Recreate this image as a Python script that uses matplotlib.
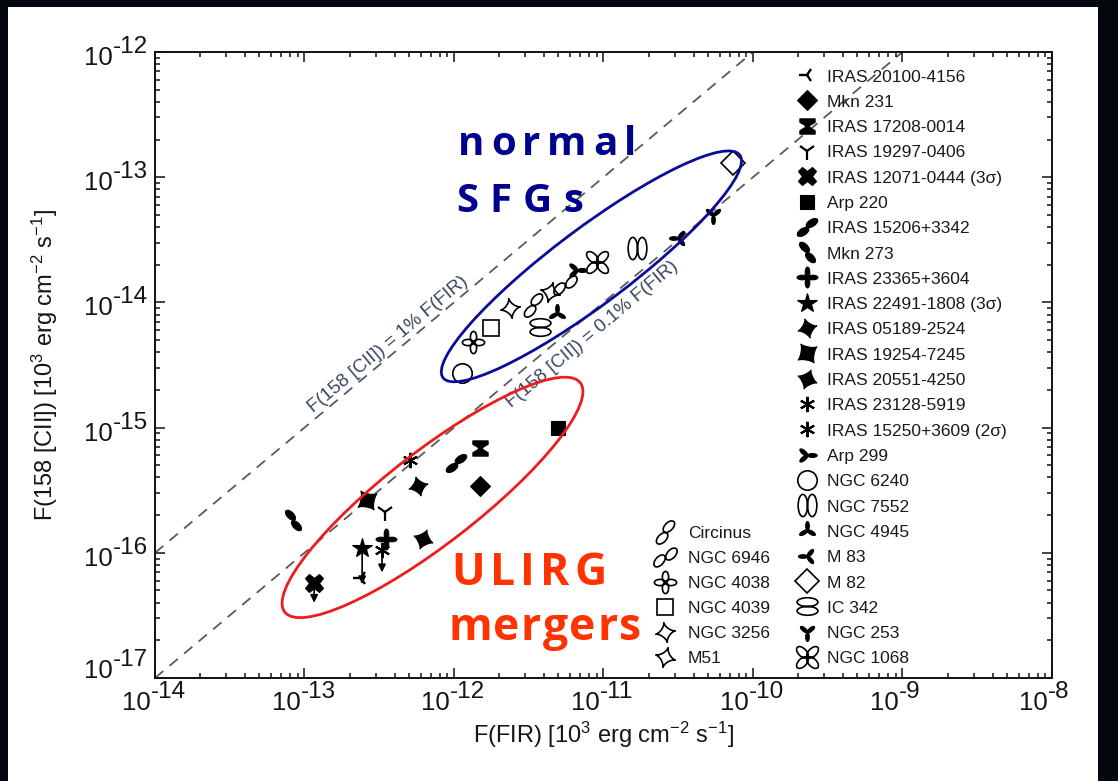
import numpy as np
import matplotlib
matplotlib.use('Agg')
import matplotlib.pyplot as plt
from matplotlib.path import Path
from matplotlib.transforms import Affine2D, IdentityTransform, blended_transform_factory, offset_copy
from matplotlib.patches import Ellipse, Rectangle
from matplotlib import font_manager as fm
from matplotlib.ticker import LogLocator, NullFormatter

# ---------------- data ----------------
ulirg_names = ['IRAS 20100-4156', 'Mkn 231', 'IRAS 17208-0014', 'IRAS 19297-0406',
               'IRAS 12071-0444 (3σ)', 'Arp 220', 'IRAS 15206+3342', 'Mkn 273',
               'IRAS 23365+3604', 'IRAS 22491-1808 (3σ)', 'IRAS 05189-2524',
               'IRAS 19254-7245', 'IRAS 20551-4250', 'IRAS 23128-5919',
               'IRAS 15250+3609 (2σ)']
ulirg_fir = [2.4e-13, 1.5e-12, 1.5e-12, 3.45e-13, 1.16e-13, 5.0e-12, 1.03e-12, 8.4e-14,
             3.5e-13, 2.43e-13, 5.7e-13, 2.6e-13, 6.2e-13, 5.1e-13, 3.3e-13]
ulirg_cii = [6.3e-17, 3.4e-16, 6.9e-16, 2.1e-16, 5.7e-17, 1.0e-15, 5.2e-16, 1.83e-16,
             1.29e-16, 1.09e-16, 3.4e-16, 2.64e-16, 1.29e-16, 5.5e-16, 1.05e-16]
ulirg_limit = [False, False, False, False, True, False, False, False,
               False, True, False, False, False, False, True]

sfg_names = ['Arp 299', 'NGC 6240', 'NGC 7552', 'NGC 4945', 'M 83', 'M 82', 'IC 342',
             'NGC 253', 'NGC 1068', 'Circinus', 'NGC 6946', 'NGC 4038', 'NGC 4039',
             'NGC 3256', 'M51']
sfg_fir = [6.7e-12, 1.13e-12, 1.67e-11, 4.9e-12, 3.15e-11, 7.35e-11, 3.76e-12,
           5.4e-11, 9.06e-12, 3.37e-12, 5.5e-12, 1.34e-12, 1.77e-12, 2.37e-12, 4.38e-12]
sfg_cii = [1.82e-14, 2.73e-15, 2.72e-14, 8.2e-15, 3.27e-14, 1.3e-13, 6.4e-15,
           5.0e-14, 2.1e-14, 9.5e-15, 1.38e-14, 4.83e-15, 6.25e-15, 9.0e-15, 1.21e-14]

legend_right = ulirg_names + sfg_names[:9]
legend_left = sfg_names[9:]

line_ratios = [1e-2, 1e-3]
line_labels = ['F(158 [CII]) = 1% F(FIR)', 'F(158 [CII]) = 0.1% F(FIR)']

x_decades = list(range(-14, -7))
y_decades = list(range(-17, -11))

# ---------------- fonts ----------------
avail = {f.name for f in fm.fontManager.ttflist}
NARROW = 'Liberation Sans Narrow' if 'Liberation Sans Narrow' in avail else 'Liberation Sans'
plt.rcParams['font.family'] = ['Liberation Sans', 'DejaVu Sans']
plt.rcParams['mathtext.fontset'] = 'custom'
plt.rcParams['mathtext.rm'] = NARROW
plt.rcParams['mathtext.it'] = NARROW + ':italic'
plt.rcParams['mathtext.bf'] = NARROW + ':bold'

W, H = 1118, 781
fig = plt.figure(figsize=(W / 100, H / 100), dpi=100, facecolor='#05080e')
fig.patches.append(Rectangle((8 / W, 0), 1090 / W, (H - 7) / H, transform=fig.transFigure,
                             facecolor='white', edgecolor='none', zorder=-10))
AX_L, AX_R, AX_T, AX_B = 155, 1052, 52, 678
ax = fig.add_axes([AX_L / W, 1 - AX_B / H, (AX_R - AX_L) / W, (AX_B - AX_T) / H])
ax.set_facecolor('white')
ax.set_xscale('log')
ax.set_yscale('log')
ax.set_xlim(10.0 ** x_decades[0], 10.0 ** x_decades[-1])
ax.set_ylim(10.0 ** y_decades[0], 10.0 ** y_decades[-1])
for sp in ax.spines.values():
    sp.set_linewidth(1.4)
    sp.set_color('#111111')
for a in (ax.xaxis, ax.yaxis):
    a.set_major_locator(LogLocator(base=10, numticks=20))
    a.set_minor_locator(LogLocator(base=10, subs=np.arange(2, 10), numticks=200))
    a.set_major_formatter(NullFormatter())
    a.set_minor_formatter(NullFormatter())
ax.tick_params(which='both', direction='in', top=True, right=True, width=1.1, color='#111111')
ax.tick_params(which='major', length=7.5)
ax.tick_params(which='minor', length=3.8)

# ---------------- marker shapes ----------------
def ell(cx, cy, a, b, ang=0.0):
    return Path.unit_circle().transformed(
        Affine2D().scale(a, b).rotate_deg(ang).translate(cx, cy))


def lobes(angles, r=0.5, a=0.5, b=0.25, tilt=0.0):
    return Path.make_compound_path(*[
        ell(r * np.cos(np.radians(t)), r * np.sin(np.radians(t)), a, b, t + tilt)
        for t in angles])


def astroid(p=3.0, rot=0.0, n=160):
    t = np.linspace(0, 2 * np.pi, n)
    c, s = np.cos(t), np.sin(t)
    v = np.column_stack([np.sign(c) * np.abs(c) ** p, np.sign(s) * np.abs(s) ** p])
    v = Affine2D().rotate_deg(rot).transform(v)
    return Path(v, closed=True)


hourglass = Path([(-1, 1), (1, 1), (1, 0.55), (0.28, 0.12), (0.28, -0.12), (1, -0.55),
                  (1, -1), (-1, -1), (-1, -0.55), (-0.28, -0.12), (-0.28, 0.12),
                  (-1, 0.55), (-1, 1)], closed=True)

F = dict(color='k', mfc='k', mec='k', mew=0.8)
O = dict(color='k', mfc='none', mec='k', mew=1.2)
styles = {
    'IRAS 20100-4156': dict(marker='3', ms=11, color='k', mew=1.7),
    'Mkn 231': dict(marker='D', ms=10, **F),
    'IRAS 17208-0014': dict(marker=hourglass, ms=11, **F),
    'IRAS 19297-0406': dict(marker='1', ms=13, color='k', mew=1.6),
    'IRAS 12071-0444 (3σ)': dict(marker='X', ms=13, **F),
    'Arp 220': dict(marker='s', ms=10, **F),
    'IRAS 15206+3342': dict(marker=lobes([45, 225], r=0.5, a=0.52, b=0.27, tilt=-12), ms=15, **F),
    'Mkn 273': dict(marker=lobes([120, 300], r=0.5, a=0.52, b=0.27, tilt=15), ms=15, **F),
    'IRAS 23365+3604': dict(marker=lobes([0, 90, 180, 270], r=0.5, a=0.5, b=0.22), ms=15, **F),
    'IRAS 22491-1808 (3σ)': dict(marker='*', ms=15, **F),
    'IRAS 05189-2524': dict(marker=astroid(2.7, 15), ms=13.5, **F),
    'IRAS 19254-7245': dict(marker=astroid(2.6, 35), ms=13.5, **F),
    'IRAS 20551-4250': dict(marker=astroid(2.6, -20), ms=13.5, **F),
    'IRAS 23128-5919': dict(marker=(6, 2, 0), ms=11, color='k', mew=1.5),
    'IRAS 15250+3609 (2σ)': dict(marker=(6, 2, 0), ms=11, color='k', mew=1.5),
    'Arp 299': dict(marker=lobes([0, 140, 220], r=0.5, a=0.5, b=0.2), ms=14, **F),
    'NGC 6240': dict(marker='o', ms=14, **O),
    'NGC 7552': dict(marker=Path.make_compound_path(ell(-0.4, 0, 0.4, 0.95), ell(0.4, 0, 0.4, 0.95)), ms=16, **O),
    'NGC 4945': dict(marker=lobes([90, 210, 330], r=0.5, a=0.5, b=0.2), ms=13, **F),
    'M 83': dict(marker=lobes([180, 50, 310], r=0.5, a=0.5, b=0.2), ms=13, **F),
    'M 82': dict(marker='D', ms=12, **O),
    'IC 342': dict(marker=Path.make_compound_path(ell(0, 0.4, 0.95, 0.4), ell(0, -0.4, 0.95, 0.4)), ms=15, **O),
    'NGC 253': dict(marker=lobes([270, 40, 140], r=0.5, a=0.5, b=0.2), ms=13, **F),
    'NGC 1068': dict(marker=lobes([45, 135, 225, 315], r=0.5, a=0.5, b=0.28), ms=16, **O),
    'Circinus': dict(marker=lobes([60, 240], r=0.5, a=0.52, b=0.3, tilt=-15), ms=17, **O),
    'NGC 6946': dict(marker=lobes([30, 210], r=0.5, a=0.52, b=0.3, tilt=18), ms=17, **O),
    'NGC 4038': dict(marker=lobes([0, 90, 180, 270], r=0.5, a=0.5, b=0.28), ms=16, **O),
    'NGC 4039': dict(marker='s', ms=11, **O),
    'NGC 3256': dict(marker=astroid(3.0, 10), ms=14, **O),
    'M51': dict(marker=astroid(3.0, -15), ms=14, **O),
}
arrow_len = {'IRAS 12071-0444 (3σ)': 14, 'IRAS 22491-1808 (3σ)': 26, 'IRAS 15250+3609 (2σ)': 16}

# ---------------- reference lines ----------------
xs = np.array(ax.get_xlim())
for r in line_ratios:
    ax.plot(xs, r * xs, ls=(0, (6, 4.5)), color='#5a5a5a', lw=1.3, zorder=1)

p1 = ax.transData.transform((1e-13, 1e-15))
p2 = ax.transData.transform((1e-11, 1e-13))
ang = np.degrees(np.arctan2(p2[1] - p1[1], p2[0] - p1[0]))
label_anchor_x = [4.0e-13, 7.1e-12]
label_offsets = [(-4.5, 5.3), (7.8, -9.3)]
for r, lab, x0, off in zip(line_ratios, line_labels, label_anchor_x, label_offsets):
    ax.annotate(lab, xy=(x0, r * x0), xytext=off, textcoords='offset points',
                rotation=ang, rotation_mode='anchor', ha='center', va='center',
                fontsize=13.5, color='#3a4560', zorder=2)

# ---------------- data points ----------------
for n, x, y, lim in zip(ulirg_names, ulirg_fir, ulirg_cii, ulirg_limit):
    ax.plot([x], [y], ls='none', zorder=4, **styles[n])
    if lim:
        ax.annotate('', xy=(x, y), xytext=(0, -arrow_len[n]), textcoords='offset points',
                    arrowprops=dict(arrowstyle='<|-,head_length=0.45,head_width=0.22',
                                    color='k', lw=1.2, shrinkA=0, shrinkB=0), zorder=3)
for n, x, y in zip(sfg_names, sfg_fir, sfg_cii):
    ax.plot([x], [y], ls='none', zorder=4, **styles[n])

# ---------------- ellipses ----------------
for (cx, cy), w, h, a, col in [((8.3e-12, 1.94e-14), 371, 76, 36.9, '#0b0b9a'),
                               ((7.18e-13, 2.77e-16), 374, 92, 37.8, '#ee1c1c')]:
    c = ax.transData.transform((cx, cy))
    ax.add_patch(Ellipse(c, w, h, angle=a, transform=IdentityTransform(),
                         fill=False, edgecolor=col, lw=2.0, zorder=5))

# ---------------- legend (two columns) ----------------
def to_ax(px, py):
    return (px - AX_L) / (AX_R - AX_L), (AX_B - py) / (AX_B - AX_T)

for names, mx, tx, y0, pitch in [(legend_right, 807, 827, 75, 25.3),
                                 (legend_left, 665, 688, 532, 24.9)]:
    for i, n in enumerate(names):
        py = y0 + i * pitch
        st = dict(styles[n])
        ax.plot(*[[v] for v in to_ax(mx, py)], transform=ax.transAxes, clip_on=False,
                ls='none', zorder=6, **st)
        ax.text(*to_ax(tx, py + 6.5), n, transform=ax.transAxes, fontsize=12.5,
                ha='left', va='baseline', color='#1a1a1a', zorder=6)

# ---------------- tick labels ----------------
TICK_FS = 18.5
bx = blended_transform_factory(ax.transData, ax.transAxes)
for e in x_decades:
    t10 = offset_copy(bx, fig=fig, x=-4, y=-32, units='dots')
    tex = offset_copy(bx, fig=fig, x=-4, y=-20, units='dots')
    ax.text(10.0 ** e, 0, '10', transform=t10, family=NARROW, fontsize=TICK_FS,
            ha='right', va='baseline', color='#151515')
    ax.text(10.0 ** e, 0, '-%d' % abs(e), transform=tex, family=NARROW, fontsize=TICK_FS - 1,
            ha='left', va='baseline', color='#151515')
by = blended_transform_factory(ax.transAxes, ax.transData)
for e in y_decades:
    shift = 13 if e == y_decades[0] else 0
    t10 = offset_copy(by, fig=fig, x=-42, y=-13 + shift, units='dots')
    tex = offset_copy(by, fig=fig, x=-42, y=-1 + shift, units='dots')
    ax.text(0, 10.0 ** e, '10', transform=t10, family=NARROW, fontsize=TICK_FS,
            ha='right', va='baseline', color='#151515')
    ax.text(0, 10.0 ** e, '-%d' % abs(e), transform=tex, family=NARROW, fontsize=TICK_FS - 1,
            ha='left', va='baseline', color='#151515')

# ---------------- axis labels ----------------
fig.text((AX_L + AX_R) / 2 / W, 1 - 735 / H, r'F(FIR) [10$^3$ erg cm$^{-2}$ s$^{-1}$]',
         family=NARROW, fontsize=17, ha='center', va='center', color='#151515')
fig.text(45 / W, 1 - 365 / H, r'F(158 [CII]) [10$^3$ erg cm$^{-2}$ s$^{-1}$]',
         family=NARROW, fontsize=17, ha='center', va='center', rotation=90, color='#151515')

# ---------------- big annotations with letter spacing ----------------
renderer = fig.canvas.get_renderer()


def spaced(s, x_left, baseline, width, size, color):
    fp = fm.FontProperties(family=['Open Sans', 'DejaVu Sans'], weight='bold', size=size)
    ws = [renderer.get_text_width_height_descent(ch, fp, ismath=False)[0] for ch in s]
    gap = (width - sum(ws)) / max(len(s) - 1, 1)
    x = x_left
    for ch, w in zip(s, ws):
        fig.text(x / W, 1 - baseline / H, ch, fontproperties=fp, color=color,
                 ha='left', va='baseline', zorder=7)
        x += w + gap


spaced('normal', 458, 155, 178, 29, '#00008e')
spaced('SFGs', 456, 212, 127, 29, '#00008e')
spaced('ULIRG', 451, 585, 156, 32, '#ff3300')
spaced('mergers', 448, 640, 193, 32, '#ff3300')

fig.savefig('out.png', dpi=100, facecolor=fig.get_facecolor())
